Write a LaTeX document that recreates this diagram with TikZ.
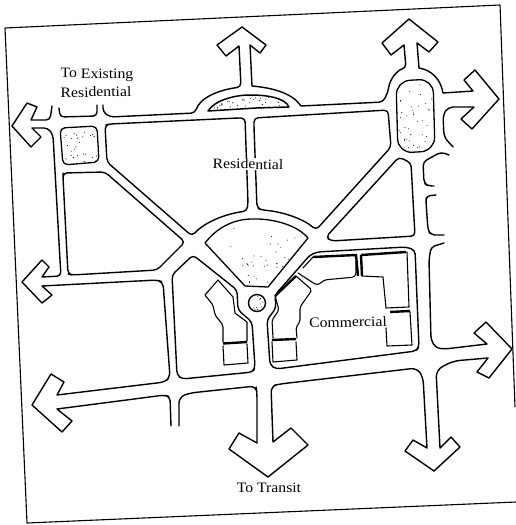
\documentclass[tikz,border=0pt]{standalone}
\usepackage{fontspec}
\setmainfont{Liberation Serif}
\tikzset{
  road/.style={line width=1.4pt,line join=round,line cap=round,rounded corners=4pt,fill=none},
  heavy/.style={line width=2.4pt,line cap=butt},
  thin line/.style={line width=1.1pt},
  frameline/.style={line width=1.1pt,line join=round},
  lab/.style={font=\fontsize{14.4}{16}\selectfont,inner sep=1pt,fill=white,xscale=1.09},
  stipple/.style={line width=1.3pt,rounded corners=5pt}
}
\newcommand{\speck}[6]{%
  \foreach \k in {1,...,#1}{%
    \pgfmathsetmacro{\sx}{#2+rnd*(#3-#2)}%
    \pgfmathsetmacro{\sy}{#4+rnd*(#5-#4)}%
    \fill[black] (\sx,\sy) circle (#6);%
  }%
}
\begin{document}
\begin{tikzpicture}[x=1pt,y=-1pt]
\useasboundingbox (0,0) rectangle (516,525);
\pgfmathsetseed{7}
% frame
\draw[frameline] (515,407) -- (500,5) -- (5,28) -- (27,523) -- (516,502);
% left and lower road outline, main run
\draw[road] (103,105) -- (103,112) -- (110,117) -- (195,113) .. controls (200,98) and (218,90) .. (241,87)
  [sharp corners] -- (239,46) -- (226,56) -- (217,45) -- (242,27) -- (266,45) -- (260,53) -- (250,45)
  -- (252,86) .. controls (275,88) and (293,94) .. (301,106) [rounded corners=4pt] -- (383,102) -- (388,92)
  .. controls (390,78) and (398,70) .. (406,68) [sharp corners] -- (404,45) -- (391,55) -- (382,43) -- (409,19) -- (438,42) -- (429,52) -- (417,43)
  -- (419,68) .. controls (432,70) and (441,80) .. (443,93) -- (473,91) -- (464,80) -- (475,70) -- (499,99) -- (472,129) -- (461,119) -- (474,107)
  [rounded corners=5pt] -- (448,107) -- (443,115) -- (444,137) -- (453,147);
\draw[road] (449,155) -- (441,152) -- (423,162) -- (424,183) -- (428,186) -- (434,186);
\draw[road] (436,195) -- (426,196) -- (426,202) -- (428,230) -- (431,235) -- (444,235);
\draw[road] (444,243) -- (431,247) -- (429,260) -- (431,340) -- (436,348) -- (445,349)
  [sharp corners] -- (487,344) -- (474,333) -- (486,322) -- (512,349) -- (489,378) -- (477,372) -- (488,358)
  [rounded corners=7pt] -- (453,361) -- (436,370) [sharp corners] -- (440,448) -- (451,437) -- (460,447) -- (434,471) -- (405,451) -- (413,440) -- (427,448)
  [rounded corners=6pt] -- (423,377) -- (417,368) -- (280,384) -- (271,386) [sharp corners] -- (273,442) -- (291,428) -- (308,445) -- (268,477) -- (229,449) -- (239,433) -- (257,443)
  [rounded corners=6pt] -- (257,393) -- (256,386) -- (190,393) -- (179,397) -- (179,426);
\draw[road] (171,426) -- (170,397) -- (165,395) [sharp corners] -- (57,409) -- (72,421) -- (62,432) -- (32,405) -- (51,374) -- (64,382) -- (57,395)
  [rounded corners=5pt] -- (165,382) -- (170,377) -- (163,282) -- (157,280) [sharp corners] -- (42,286) -- (52,295) -- (42,303) -- (22,282) -- (42,260) -- (49,267) -- (42,277)
  [rounded corners=4pt] -- (61,276) -- (60,260) -- (53,135) -- (48,128) [sharp corners] -- (32,128) -- (41,137) -- (31,147) -- (12,126) -- (27,103) -- (37,107) -- (31,120)
  [rounded corners=4pt] -- (50,120) -- (52,106);
\draw[road] (59,108) -- (60,117) -- (97,116) -- (97,105);
% blocks
\draw[road] (110,124) -- (105,125) -- (107,162) -- (192,236) .. controls (205,222) and (225,214) .. (247,211) -- (248,203) -- (245,118) -- (238,118) -- cycle;
\draw[road] (254,127) -- (257,208) -- (262,210) .. controls (285,212) and (305,220) .. (316,230) -- (391,147) -- (388,110) -- (254,118) -- cycle;
\draw[road] (399,157) -- (411,163) -- (415,236) -- (331,241) -- (326,237) -- cycle;
\draw[road] (63,177) -- (63,173) -- (105,172) -- (185,242) -- (157,270) -- (72,275) -- (68,274) -- cycle;
\draw[road] (172,275) -- (193,255) -- (237,290) -- (238,310) -- (252,322) -- (255,367) -- (253,372) -- (182,379) -- (177,375) -- cycle;
\draw[road] (310,255) -- (317,252) -- (406,247) -- (415,250) -- (419,347) -- (416,351) -- (276,369) -- (270,365) -- (267,320) -- (276,308) -- (275,295) -- cycle;
% stippled parks
\begin{scope}
 \draw[road,stipple] (60,128) -- (97,126) -- (99,162) -- (63,165) -- cycle;
 \clip (62,130) rectangle (97,163); \speck{26}{62}{97}{130}{163}{0.55pt}
\end{scope}
\begin{scope}
 \draw[road,line width=1.5pt,sharp corners] (208,111) .. controls (215,100) and (235,95) .. (250,95) .. controls (268,95) and (285,98) .. (289,107) -- (256,108) -- cycle;
 \clip (212,109) -- (225,99) -- (250,97) -- (270,97) -- (286,106) -- cycle; \speck{45}{212}{286}{97}{109}{0.55pt}
\end{scope}
\begin{scope}
 \draw[road,stipple,rounded corners=14pt] (396,81) -- (433,79) -- (435,151) -- (398,153) -- cycle;
 \clip (398,84) rectangle (432,150); \speck{42}{398}{432}{84}{150}{0.5pt}
\end{scope}
\begin{scope}
 \draw[road,stipple,sharp corners] (205,243) .. controls (215,230) and (230,220) .. (250,219) .. controls (275,218) and (298,226) .. (308,238) -- (268,287) -- (245,286) -- cycle;
 \clip (207,243) -- (225,226) -- (250,221) -- (280,224) -- (306,239) -- (268,285) -- (245,284) -- cycle;
 \speck{22}{207}{306}{222}{285}{0.5pt}
 \speck{24}{240}{290}{255}{285}{0.5pt}
\end{scope}
\begin{scope}
 \draw[road] (257,303) circle (8.5pt);
 \clip (257,303) circle (7pt); \speck{10}{250}{264}{296}{310}{0.55pt}
\end{scope}
% left-hand building
\draw[road,thin line,rounded corners=2pt] (223,342) -- (223,325) -- (215,315) -- (213,305) [sharp corners] -- (205,295) -- (218,280) -- (233,297) -- (235,313) -- (247,322) -- (247,341);
\draw[heavy] (223,343.5) -- (247,342);
\draw[road,thin line,sharp corners] (223,346) -- (224,365) -- (248,363) -- (247,344);
% right-hand building
\draw[road,thin line,rounded corners=2pt] (273,338) -- (272,320) -- (279,310) [sharp corners] -- (275,296);
\draw[heavy] (275,296) -- (296,276);
\draw[road,thin line,rounded corners=2pt] (296,276) -- (312,290) -- (300,307) -- (300,322) -- (296,327) -- (297,338);
\draw[heavy] (272,340) -- (296,339);
\draw[road,thin line,sharp corners] (272,342) -- (273,362) -- (297,360) -- (296,342);
% commercial buildings
\draw[road,thin line] (298,273) -- (318,286) -- (323,280) -- (356,277) -- (356,262);
\draw[road,thin line] (303,268) -- (313,257);
\draw[heavy] (313,257) -- (356,255) -- (358,276);
\draw[heavy] (361,255) -- (406,252);
\draw[heavy] (361,255) -- (362,276);
\draw[road,thin line,sharp corners] (362,276) -- (383,277) -- (386,308) -- (409,307) -- (407,252);
\draw[heavy] (390,312) -- (410,311);
\draw[road,thin line,sharp corners] (410,312) -- (412,345) -- (387,346) -- (386,328);
% labels
\node[lab,fill=none] (exist) at (97,75) [rotate=-0.5] {To Existing};
\node[lab,fill=none] (resi) at (96,92) [rotate=0.5] {Residential};
\node[lab] (central) at (248,164) [rotate=-1] {Residential};
\node[lab,fill=none] (comm) at (348,322) [rotate=1] {Commercial};
\node[lab,fill=none] (transit) at (269,488) {To Transit};
\end{tikzpicture}
\end{document}
